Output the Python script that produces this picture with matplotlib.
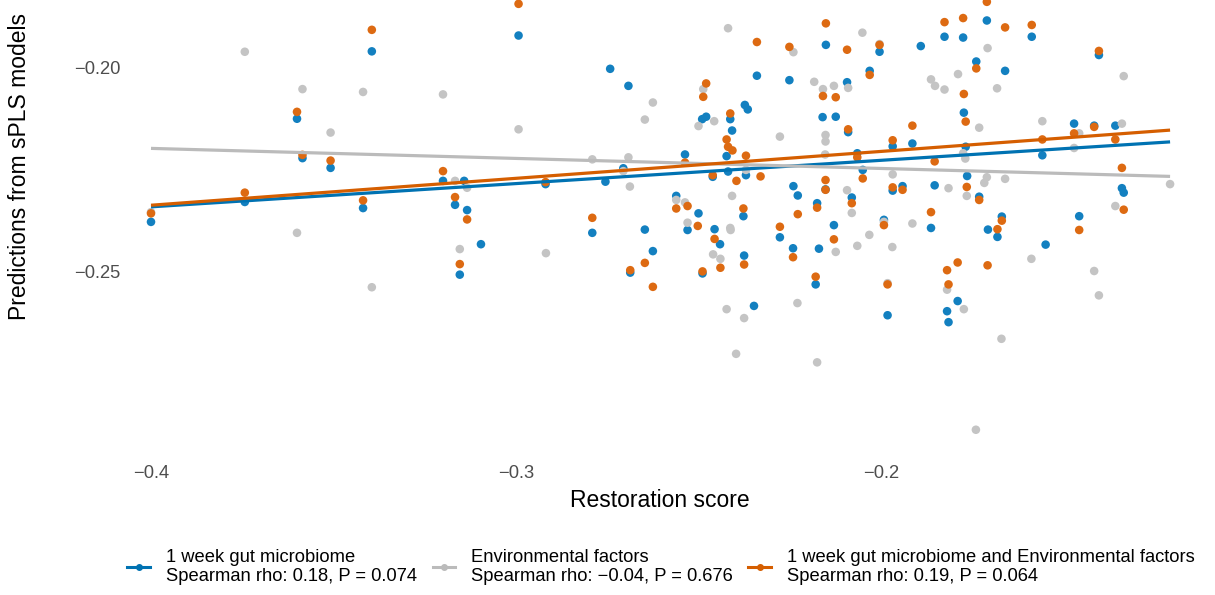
import numpy as np
import matplotlib
matplotlib.use("Agg")
from matplotlib import pyplot as plt
from matplotlib.lines import Line2D

plt.rcParams['font.family'] = ['Liberation Sans', 'DejaVu Sans']

# Restoration score (x) and sPLS predictions (y)
micro_x = [-0.4000, -0.3743, -0.3600, -0.3585, -0.3508, -0.3419, -0.3395, -0.3200, -0.3167, -0.3154,
           -0.3142, -0.3134, -0.3096, -0.2993, -0.2919, -0.2791, -0.2755, -0.2742, -0.2706, -0.2692,
           -0.2647, -0.2625, -0.2537, -0.2561, -0.2500, -0.2530, -0.2687, -0.2489, -0.2490, -0.2479,
           -0.2456, -0.2441, -0.2461, -0.2419, -0.2413, -0.2408, -0.2423, -0.2373, -0.2365, -0.2370,
           -0.2377, -0.2375, -0.2348, -0.2340, -0.2277, -0.2251, -0.2240, -0.2228, -0.2241, -0.2175,
           -0.2170, -0.2179, -0.2160, -0.2151, -0.2152, -0.2129, -0.2124, -0.2093, -0.2090, -0.2080,
           -0.2065, -0.2050, -0.2031, -0.2004, -0.1992, -0.1982, -0.1968, -0.1968, -0.1941, -0.1914,
           -0.1891, -0.1863, -0.1853, -0.1826, -0.1819, -0.1815, -0.1790, -0.1775, -0.1773, -0.1768,
           -0.1764, -0.1739, -0.1731, -0.1710, -0.1707, -0.1681, -0.1669, -0.1660, -0.1587, -0.1558,
           -0.1549, -0.1471, -0.1457, -0.1416, -0.1403, -0.1358, -0.1340, -0.1335]
micro_y = [-0.2379, -0.2330, -0.2125, -0.2222, -0.2246, -0.2345, -0.1959, -0.2278, -0.2337, -0.2509,
           -0.2278, -0.2350, -0.2434, -0.1920, -0.2286, -0.2406, -0.2280, -0.2002, -0.2247, -0.2044,
           -0.2398, -0.2451, -0.2213, -0.2315, -0.2358, -0.2399, -0.2504, -0.2506, -0.2126, -0.2120,
           -0.2397, -0.2434, -0.2268, -0.2255, -0.2126, -0.2154, -0.2217, -0.2091, -0.2102, -0.2264,
           -0.2365, -0.2462, -0.2586, -0.2019, -0.2417, -0.2030, -0.2291, -0.2314, -0.2444, -0.2333,
           -0.2445, -0.2533, -0.2121, -0.1943, -0.2299, -0.2387, -0.2120, -0.2035, -0.2158, -0.2319,
           -0.2210, -0.2251, -0.2007, -0.1960, -0.2374, -0.2609, -0.2193, -0.2302, -0.2291, -0.2186,
           -0.1946, -0.2394, -0.2289, -0.1923, -0.2599, -0.2626, -0.2574, -0.1925, -0.2110, -0.2194,
           -0.2266, -0.1984, -0.2317, -0.1883, -0.2398, -0.2416, -0.2366, -0.2007, -0.1923, -0.2215,
           -0.2435, -0.2137, -0.2365, -0.2142, -0.1968, -0.2142, -0.2296, -0.2307]

env_x = [-0.4000, -0.3743, -0.3600, -0.3585, -0.3508, -0.3419, -0.3395, -0.3200, -0.3167, -0.3134,
         -0.3154, -0.2993, -0.2918, -0.2791, -0.2692, -0.2688, -0.2647, -0.2625, -0.2561, -0.2537,
         -0.2530, -0.2500, -0.2706, -0.2412, -0.2460, -0.2440, -0.2423, -0.2375, -0.2397, -0.2229,
         -0.2175, -0.2124, -0.2065, -0.2032, -0.1969, -0.1982, -0.1819, -0.1773, -0.1670, -0.1740,
         -0.1588, -0.1416, -0.1403, -0.2419, -0.2240, -0.2051, -0.2004, -0.1708, -0.1789, -0.1863,
         -0.1852, -0.1826, -0.1682, -0.2183, -0.2159, -0.2129, -0.2090, -0.2487, -0.2457, -0.2277,
         -0.2152, -0.2152, -0.2153, -0.1731, -0.1775, -0.1769, -0.2370, -0.1968, -0.1710, -0.1717,
         -0.2408, -0.2093, -0.1815, -0.1765, -0.2080, -0.1992, -0.1914, -0.2413, -0.1335, -0.1558,
         -0.1457, -0.1340, -0.1471, -0.1660, -0.1358, -0.1208]
env_y = [-0.2355, -0.1960, -0.2406, -0.2052, -0.2159, -0.2059, -0.2540, -0.2065, -0.2278, -0.2295,
         -0.2446, -0.2151, -0.2456, -0.2225, -0.2220, -0.2292, -0.2127, -0.2085, -0.2325, -0.2331,
         -0.2381, -0.2143, -0.2254, -0.2399, -0.2459, -0.2470, -0.2594, -0.2616, -0.2704, -0.2579,
         -0.2725, -0.2453, -0.2438, -0.2411, -0.2441, -0.2530, -0.2546, -0.2594, -0.2667, -0.2891,
         -0.2470, -0.2500, -0.2560, -0.1902, -0.1961, -0.1913, -0.1941, -0.1951, -0.2015, -0.2028,
         -0.2044, -0.2053, -0.2050, -0.2034, -0.2052, -0.2044, -0.2049, -0.2052, -0.2131, -0.2169,
         -0.2165, -0.2181, -0.2213, -0.2147, -0.2210, -0.2223, -0.2251, -0.2262, -0.2269, -0.2283,
         -0.2315, -0.2301, -0.2296, -0.2315, -0.2357, -0.2379, -0.2383, -0.2394, -0.2020, -0.2131,
         -0.2161, -0.2137, -0.2197, -0.2273, -0.2340, -0.2286]

both_x = [-0.4000, -0.3743, -0.3600, -0.3585, -0.3508, -0.3419, -0.3395, -0.3200, -0.3167, -0.3154,
          -0.3134, -0.2993, -0.2919, -0.2791, -0.2687, -0.2647, -0.2625, -0.2561, -0.2530, -0.2537,
          -0.2502, -0.2489, -0.2456, -0.2440, -0.2375, -0.2479, -0.2487, -0.2413, -0.2423, -0.2419,
          -0.2407, -0.2370, -0.2461, -0.2396, -0.2330, -0.2377, -0.2340, -0.2251, -0.2277, -0.2228,
          -0.2241, -0.2129, -0.2179, -0.2175, -0.2159, -0.2151, -0.2152, -0.2152, -0.2124, -0.2093,
          -0.2090, -0.2080, -0.2065, -0.2050, -0.2031, -0.2004, -0.1992, -0.1982, -0.1968, -0.1968,
          -0.1941, -0.1914, -0.1863, -0.1853, -0.1826, -0.1819, -0.1815, -0.1790, -0.1775, -0.1773,
          -0.1768, -0.1765, -0.1739, -0.1731, -0.1710, -0.1708, -0.1681, -0.1669, -0.1660, -0.1587,
          -0.1558, -0.1471, -0.1457, -0.1416, -0.1403, -0.1358, -0.1340, -0.1335]
both_y = [-0.2358, -0.2307, -0.2108, -0.2214, -0.2228, -0.2326, -0.1906, -0.2254, -0.2318, -0.2483,
          -0.2373, -0.1842, -0.2281, -0.2369, -0.2498, -0.2480, -0.2539, -0.2346, -0.2340, -0.2233,
          -0.2389, -0.2501, -0.2421, -0.2492, -0.2484, -0.2038, -0.2071, -0.2112, -0.2176, -0.2194,
          -0.2203, -0.2216, -0.2264, -0.2278, -0.2267, -0.2346, -0.1936, -0.1948, -0.2391, -0.2360,
          -0.2466, -0.2422, -0.2514, -0.2344, -0.2069, -0.1890, -0.2276, -0.2300, -0.2072, -0.1955,
          -0.2151, -0.2333, -0.2220, -0.2272, -0.2017, -0.1943, -0.2387, -0.2533, -0.2178, -0.2294,
          -0.2300, -0.2142, -0.2355, -0.2230, -0.1887, -0.2498, -0.2533, -0.2479, -0.1877, -0.2064,
          -0.2132, -0.2293, -0.2001, -0.2325, -0.1837, -0.2486, -0.2397, -0.2376, -0.1900, -0.1894,
          -0.2176, -0.2161, -0.2399, -0.2145, -0.1958, -0.2176, -0.2246, -0.2349]

# linear fit lines (y at the low and high end of the x range);
# the original fit also used points above the cropped top edge
fit_y_low = [-0.2342, -0.2198, -0.2338]
fit_y_high = [-0.2182, -0.2267, -0.2153]

labels = ["1 week gut microbiome\nSpearman rho: 0.18, P = 0.074",
          "Environmental factors\nSpearman rho: \u22120.04, P = 0.676",
          "1 week gut microbiome and Environmental factors\nSpearman rho: 0.19, P = 0.064"]
line_colors = ["#0072B2", "#BBBBBB", "#D55E00"]
point_colors = ["#1380C0", "#C4C4C4", "#DD6A12"]

series = [(micro_x, micro_y), (env_x, env_y), (both_x, both_y)]

fig = plt.figure(figsize=(12.15, 5.95), dpi=100)
ax = fig.add_axes([130/1215, 140/595, 1060/1215, 455/595])

for (xs, ys), pc in zip(series, point_colors):
    ax.scatter(xs, ys, s=38, color=pc, edgecolors='none', zorder=2)

all_x = np.concatenate([micro_x, env_x, both_x])
xfit = [all_x.min(), all_x.max()]
for y0, y1, lc in zip(fit_y_low, fit_y_high, line_colors):
    ax.plot(xfit, [y0, y1], color=lc, lw=2.3, zorder=3, solid_capstyle='butt')

ax.set_xlim(-0.4 - 21/3650, -0.4 + 1039/3650)
ax.set_ylim(-0.2 - 387/4060, -0.2 + 68/4060)

ax.set_xticks([-0.4, -0.3, -0.2])
ax.set_xticklabels(["\u22120.4", "\u22120.3", "\u22120.2"])
ax.set_yticks([-0.25, -0.20])
ax.set_yticklabels(["\u22120.25", "\u22120.20"])
ax.tick_params(length=0, labelsize=13.2, labelcolor="#4D4D4D")
ax.tick_params(axis='x', pad=7)
ax.tick_params(axis='y', pad=7)
for sp in ax.spines.values():
    sp.set_visible(False)

ax.set_xlabel("Restoration score", fontsize=16.5, labelpad=5)
ax.set_ylabel("Predictions from sPLS models", fontsize=16.5)
ax.yaxis.set_label_coords(-0.093, 0.633)

handles = [Line2D([0], [0], color=lc, lw=2.2, marker='o', markersize=4,
                  markerfacecolor=lc, markeredgecolor=lc) for lc in line_colors]
fig.legend(handles, labels, loc='center', bbox_to_anchor=(661/1215, 0.047), ncol=3,
           frameon=False, fontsize=13.2, handlelength=1.25, handletextpad=0.85,
           columnspacing=0.85, labelspacing=0.3)

plt.savefig("out.png", dpi=100)
